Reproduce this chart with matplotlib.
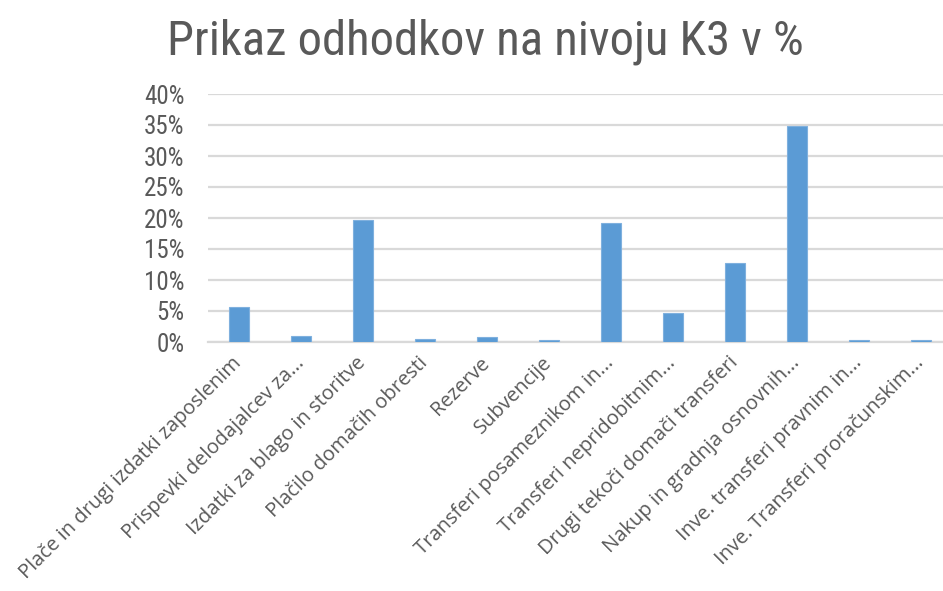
import matplotlib.pyplot as plt
from matplotlib.ticker import PercentFormatter

categories = ['Plače in drugi izdatki zaposlenim', 'Prispevki delodajalcev za...',
              'Izdatki za blago in storitve', 'Plačilo domačih obresti', 'Rezerve',
              'Subvencije', 'Transferi posameznikom in...', 'Transferi nepridobitnim...',
              'Drugi tekoči domači transferi', 'Nakup in gradnja osnovnih...',
              'Inve. transferi pravnim in...', 'Inve. Transferi proračunskim...']
values = [5.7, 0.9, 19.6, 0.45, 0.8, 0.3, 19.25, 4.6, 12.7, 34.9, 0.3, 0.3]

bar_color = '#5B9BD5'
text_color = '#595959'
grid_color = '#D9D9D9'
narrow = ['Roboto Condensed', 'DejaVu Sans']

fig = plt.figure(figsize=(9.43, 5.91), dpi=100)
ax = fig.add_axes([208 / 943, 249 / 591, 744 / 943, 248 / 591])

x = range(len(categories))
ax.bar(x, values, width=0.31, color=bar_color, edgecolor='#7FB0DE', linewidth=0.8, zorder=3)

ax.set_xlim(-0.5, len(categories) - 0.5)
ax.set_ylim(0, 40)
ax.set_yticks(range(0, 41, 5))
ax.yaxis.set_major_formatter(PercentFormatter(decimals=0))
ax.grid(axis='y', color=grid_color, linewidth=1.6, zorder=0)
for s in ['top', 'right', 'left']:
    ax.spines[s].set_visible(False)
ax.spines['bottom'].set_color(grid_color)
ax.spines['bottom'].set_linewidth(1.6)
ax.tick_params(axis='both', length=0)
ax.tick_params(axis='y', pad=17, labelcolor=text_color)

ax.set_xticks(list(x))
ax.set_xticklabels(categories, rotation=45, ha='right', va='center',
                   rotation_mode='anchor', fontsize=14.5, color=text_color,
                   family=['Open Sans', 'DejaVu Sans'])
ax.tick_params(axis='x', pad=13)
for lab in ax.get_yticklabels():
    lab.set_family(narrow)
    lab.set_fontsize(18)

fig.text(0.515, 0.93, 'Prikaz odhodkov na nivoju K3 v %', ha='center', va='center',
         fontsize=35, color=text_color, family=narrow)

plt.savefig('out.png', dpi=100)
